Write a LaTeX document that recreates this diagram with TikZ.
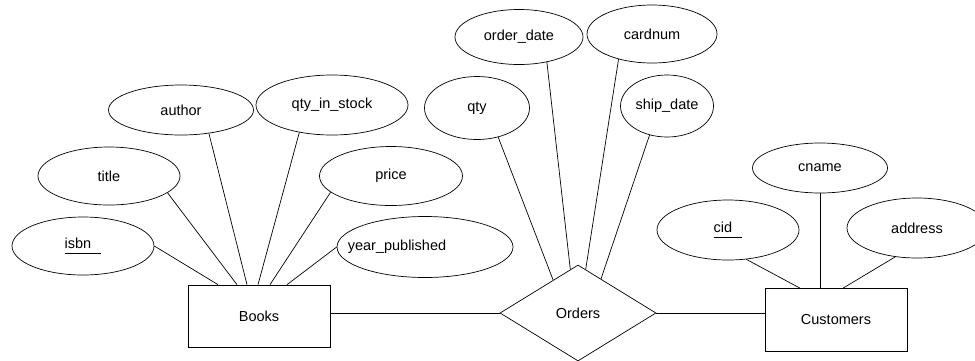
\documentclass[tikz,border=0pt]{standalone}
\usepackage{fontspec}
\setmainfont{Liberation Sans}
\usetikzlibrary{shapes.geometric}
\newcommand{\keyattr}[1]{\underline{#1\hspace*{10pt}\vphantom{g}}}
\tikzset{
    attr/.style={ellipse,draw,inner sep=0pt},
    entity/.style={rectangle,draw,minimum width=142pt,minimum height=62pt},
    relship/.style={diamond,draw,inner sep=0pt,minimum width=156pt,minimum height=96pt},
}
\begin{document}
\begin{tikzpicture}[x=1pt,y=-1pt,line width=0.7pt,font=\fontsize{14.5}{17}\selectfont]
    \useasboundingbox (0,0) rectangle (975,360);
    \node at (259,316) [entity] (books) {Books};
    \node at (578,313) [relship] (orders) {Orders};
    \node at (836,320) [entity,minimum height=63pt] (customers) {Customers};
    \node at ( 83,246) [attr,minimum width=142pt,minimum height=58pt] (isbn) {\keyattr{isbn}};
    \node at (109,176) [attr,minimum width=142pt,minimum height=58pt] (title) {title};
    \node at (181,110) [attr,minimum width=145pt,minimum height=50pt] (author) {author};
    \node at (332,105) [attr,minimum width=152pt,minimum height=60pt] (stock) {qty\_in\_stock};
    \node at (391,176) [attr,minimum width=143pt,minimum height=59pt] (price) {price};
    \node at (425,247) [attr,minimum width=176pt,minimum height=61pt] (year) {\hspace*{-56pt}year\_published};
    \node at (477,108) [attr,minimum width=105pt,minimum height=63pt] (qty) {qty};
    \node at (519, 37) [attr,minimum width=128pt,minimum height=55pt] (orderdate) {order\_date};
    \node at (652, 34) [attr,minimum width=130pt,minimum height=58pt] (cardnum) {cardnum};
    \node at (667,106) [attr,minimum width=93pt,minimum height=62pt] (shipdate) {ship\_date};
    \node at (728,230) [attr,minimum width=142pt,minimum height=60pt] (cid) {\keyattr{cid}};
    \node at (820,168) [attr,minimum width=135pt,minimum height=50pt] (cname) {cname};
    \node at (917,228) [attr,minimum width=140pt,minimum height=60pt] (address) {address};
    % Books attributes
    \draw (isbn.east) -- ([xshift=-41pt]books.north);
    \draw (title.-16) -- ([xshift=-22pt]books.north);
    \draw (author.-40) -- ([xshift=-12pt]books.north);
    \draw (stock.-140) -- ([xshift=-1pt]books.north);
    \draw (price.-165) -- ([xshift=11pt]books.north);
    \draw (year.west) -- ([xshift=28pt]books.north);
    % Orders
    \draw (books.east |- orders) -- (orders.west);
    \draw (qty.-54) -- (orders.127);
    \draw (orderdate.-42) -- (orders.100);
    \draw (cardnum.-143) -- (orders.80);
    \draw (shipdate.-121) -- (orders.56);
    \draw (orders.east) -- (orders.east -| customers.west);
    % Customers attributes
    \draw (cid.-58) -- ([xshift=-36pt]customers.north);
    \draw (cname.south) -- (cname.south |- customers.north);
    \draw (address.-127) -- ([xshift=7pt]customers.north);
\end{tikzpicture}
\end{document}
